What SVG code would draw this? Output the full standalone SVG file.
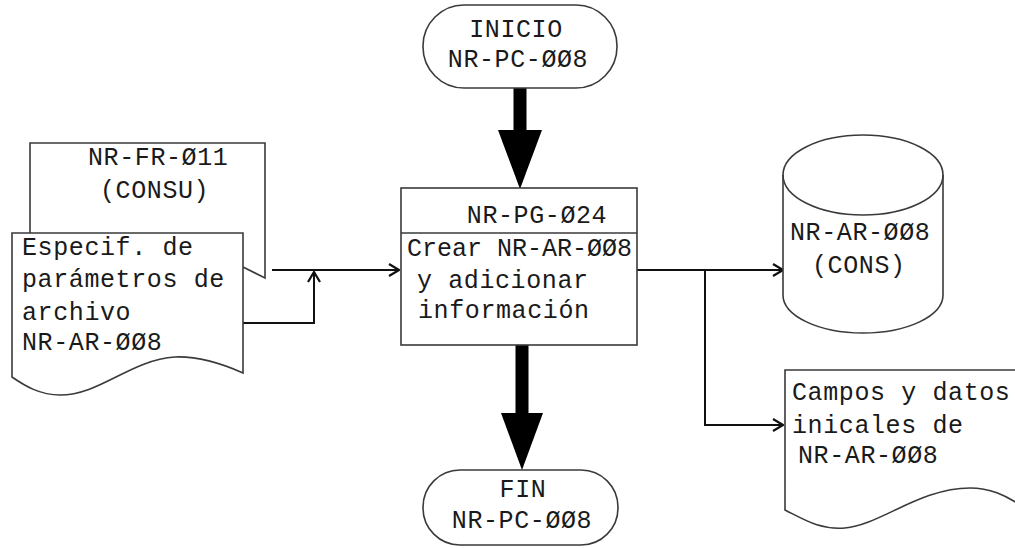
<svg xmlns="http://www.w3.org/2000/svg" width="1015" height="548" viewBox="0 0 1015 548">
  <defs>
    <style>
      .shape { fill: #ffffff; stroke: #3a3a3a; stroke-width: 1.6; }
      .edge { fill: none; stroke: #111111; stroke-width: 2; }
      .thick { fill: #000000; stroke: none; }
      text { font-family: "Liberation Mono", "DejaVu Sans Mono", monospace; font-size: 25px; fill: #1a1a1a; letter-spacing: 0.6px; }
      .mid { text-anchor: middle; }
    </style>
    <marker id="open" viewBox="0 0 12 14" markerWidth="12" markerHeight="14" refX="11" refY="7" orient="auto" markerUnits="userSpaceOnUse">
      <path d="M1,1 L11,7 L1,13" fill="none" stroke="#111111" stroke-width="2.2"/>
    </marker>
  </defs>
  <rect width="1015" height="548" fill="#ffffff"/>

  <!-- connectors -->
  <g id="connectors">
    <rect class="thick" x="513.5" y="87" width="13" height="46"/>
    <polygon class="thick" points="498,130 542,130 520,189"/>
    <rect class="thick" x="515.5" y="345" width="13" height="71"/>
    <polygon class="thick" points="501,413 543,413 522,470"/>
    <path class="edge" d="M272,270 L399,270" marker-end="url(#open)"/>
    <path class="edge" d="M243,323 L314,323 L314,272" marker-end="url(#open)"/>
    <path class="edge" d="M637,270 L783,270" marker-end="url(#open)"/>
    <path class="edge" d="M705,270 L705,425 L783,425" marker-end="url(#open)"/>
  </g>

  <!-- start terminal -->
  <g id="inicio">
    <rect class="shape" x="423" y="5" width="194" height="83" rx="41" ry="41"/>
    <text class="mid" x="516" y="37">INICIO</text>
    <text class="mid" x="518" y="67">NR-PC-ØØ8</text>
  </g>

  <!-- form document (behind) -->
  <g id="form-doc">
    <path class="shape" d="M30,233 L30,143 L265,143 L265,278 L243,267" style="fill:none"/>
    <text x="88" y="165">NR-FR-Ø11</text>
    <text x="100" y="198">(CONSU)</text>
  </g>

  <!-- parameter document -->
  <g id="param-doc">
    <path class="shape" d="M12,233 L243,233 L243,373 C225,365 200,356 175,357 C130,360 100,395 60,395 C40,395 25,386 12,377 Z"/>
    <text x="22" y="255">Especif. de</text>
    <text x="22" y="287">parámetros de</text>
    <text x="22" y="320">archivo</text>
    <text x="22" y="350">NR-AR-ØØ8</text>
  </g>

  <!-- process -->
  <g id="process">
    <rect class="shape" x="401" y="188" width="236" height="157"/>
    <line class="shape" x1="401" y1="233" x2="637" y2="233"/>
    <text class="mid" x="537" y="223">NR-PG-Ø24</text>
    <text x="407" y="256" style="letter-spacing:0">Crear NR-AR-ØØ8</text>
    <text x="417" y="288">y adicionar</text>
    <text x="418" y="318">información</text>
  </g>

  <!-- storage cylinder -->
  <g id="archivo">
    <path class="shape" d="M783,175 A80,40 0 0 1 943,175 L943,295 A80,38 0 0 1 783,295 Z"/>
    <path class="shape" d="M783,175 A80,40 0 0 0 943,175" style="fill:none"/>
    <text x="790" y="240">NR-AR-ØØ8</text>
    <text x="812" y="273">(CONS)</text>
  </g>

  <!-- output document -->
  <g id="campos-doc">
    <path class="shape" d="M785,510 L785,370 L1020,370 L1020,505 C1005,495 990,488 970,488 C920,488 880,525 845,528 C820,530 805,520 785,510 Z"/>
    <text x="792" y="400">Campos y datos</text>
    <text x="792" y="433">inicales de</text>
    <text x="798" y="463">NR-AR-ØØ8</text>
  </g>

  <!-- end terminal -->
  <g id="fin">
    <rect class="shape" x="423" y="470" width="195" height="75" rx="37" ry="37"/>
    <text class="mid" x="523" y="497">FIN</text>
    <text class="mid" x="522" y="528">NR-PC-ØØ8</text>
  </g>
</svg>
